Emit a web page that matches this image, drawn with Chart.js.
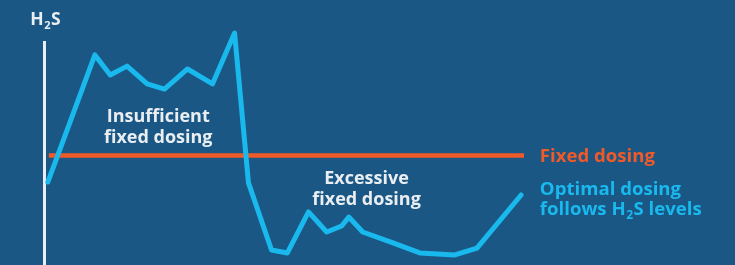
<!DOCTYPE html>
<html>
<head>
<meta charset="utf-8">
<script src="https://cdn.jsdelivr.net/npm/chart.js@4"></script>
<style>
  html, body { margin: 0; padding: 0; background: #1a5785; }
  #wrap { width: 735px; height: 265px; position: relative; }
</style>
</head>
<body>
<div id="wrap"><canvas id="c" width="735" height="265"></canvas></div>
<script>
// ---- Data ----
const timeX = [0.8, 10.6, 13.8, 17.3, 21.5, 25.1, 29.9, 35.1, 39.7, 42.6, 47.4, 50.7, 55.1, 58.9, 62.0, 63.5, 66.4, 72.7, 78.3, 85.6, 90.2, 99.4];
const h2sLevel = [37.2, 94.2, 85.2, 89.2, 81.2, 78.9, 87.9, 81.2, 104.0, 36.8, 6.7, 5.4, 23.8, 14.8, 17.5, 21.5, 14.8, 9.9, 5.4, 4.5, 7.6, 31.4];
const fixedX = [1.0, 100];
const fixedLevel = [49.1, 49.1];
const axisTitle = 'H₂S';
const zoneLabels = [['Insufficient', 'fixed dosing'], ['Excessive', 'fixed dosing']];
const seriesLabels = [['Fixed dosing'], ['Optimal dosing', 'follows H₂S levels']];

const BG = '#1a5785', ORANGE = '#f05a28', CYAN = '#19b9ee', WHITE = '#e9eef2';
const FONT = '"Open Sans", Lato, sans-serif';

function drawRich(ctx, text, x, y, size, align) {
  // draws text where "₂" is rendered as a small subscript 2
  const parts = text.split('₂');
  const big = 'bold ' + size + 'px ' + FONT;
  const small = 'bold ' + Math.round(size * 0.62) + 'px ' + FONT;
  let total = 0;
  parts.forEach((p, i) => {
    ctx.font = big; total += ctx.measureText(p).width;
    if (i < parts.length - 1) { ctx.font = small; total += ctx.measureText('2').width + 1; }
  });
  let cx = align === 'center' ? x - total / 2 : x;
  ctx.textAlign = 'left';
  ctx.textBaseline = 'alphabetic';
  parts.forEach((p, i) => {
    ctx.font = big; ctx.fillText(p, cx, y); cx += ctx.measureText(p).width;
    if (i < parts.length - 1) {
      ctx.font = small; ctx.fillText('2', cx + 0.5, y + size * 0.22);
      cx += ctx.measureText('2').width + 1;
    }
  });
}

const textPlugin = {
  id: 'texts',
  afterDatasetsDraw(chart) {
    const ctx = chart.ctx, xs = chart.scales.x, ys = chart.scales.y;
    ctx.save();
    ctx.fillStyle = WHITE;
    // axis title
    drawRich(ctx, axisTitle, xs.getPixelForValue(0.3), ys.getPixelForValue(107.6), 17.5, 'center');
    // zone labels
    const zonePos = [[23.8, 64.3, 54.9], [67.2, 36.5, 27.1]];
    zoneLabels.forEach((lines, i) => {
      lines.forEach((ln, j) => {
        drawRich(ctx, ln, xs.getPixelForValue(zonePos[i][0]), ys.getPixelForValue(zonePos[i][1 + j]), 18, 'center');
      });
    });
    // series labels
    const serColors = [ORANGE, CYAN];
    const serPos = [[46.0], [31.4, 22.4]];
    seriesLabels.forEach((lines, i) => {
      ctx.fillStyle = serColors[i];
      lines.forEach((ln, j) => {
        drawRich(ctx, ln, xs.getPixelForValue(103.3), ys.getPixelForValue(serPos[i][j]), 18.6, 'left');
      });
    });
    ctx.restore();
  }
};

new Chart(document.getElementById('c'), {
  type: 'line',
  data: {
    datasets: [
      {
        label: 'Optimal dosing',
        data: timeX.map((x, i) => ({ x, y: h2sLevel[i] })),
        borderColor: CYAN, borderWidth: 5, tension: 0,
        borderJoinStyle: 'round', borderCapStyle: 'round',
        pointRadius: 0, clip: false
      },
      {
        label: 'Fixed dosing',
        data: fixedX.map((x, i) => ({ x, y: fixedLevel[i] })),
        borderColor: ORANGE, borderWidth: 4.5, tension: 0,
        borderCapStyle: 'butt', pointRadius: 0, clip: false
      }
    ]
  },
  options: {
    responsive: false, animation: false,
    layout: { padding: { left: 44, right: 211, top: 42, bottom: 0 } },
    plugins: { legend: { display: false }, tooltip: { enabled: false } },
    scales: {
      x: { type: 'linear', min: 0, max: 100, display: false },
      y: {
        type: 'linear', min: 0, max: 100, display: true,
        grid: { display: false, drawTicks: false },
        ticks: { display: false },
        border: { display: true, color: WHITE, width: 3 }
      }
    }
  },
  plugins: [textPlugin]
});
</script>
</body>
</html>
